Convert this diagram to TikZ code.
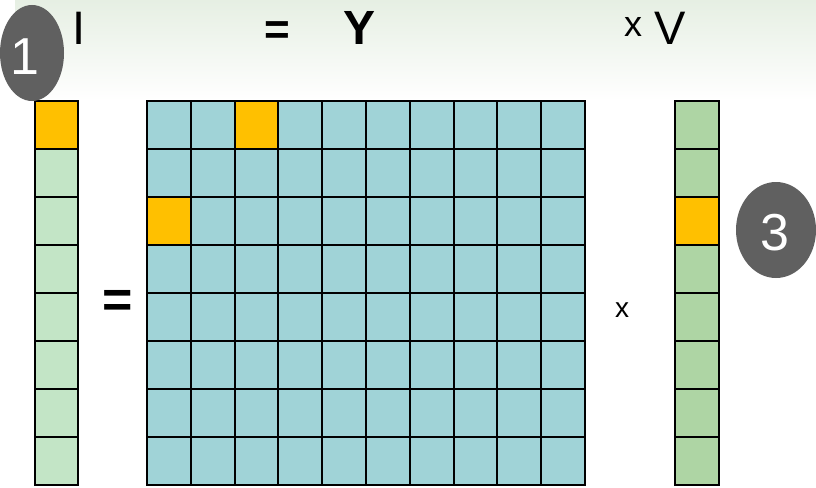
\documentclass[tikz,border=0pt]{standalone}
\usepackage{fontspec}
\setmainfont{Liberation Sans}
\definecolor{orng}{HTML}{FFC000}
\definecolor{lgreen}{HTML}{C3E5C6}
\definecolor{teal}{HTML}{A0D3D7}
\definecolor{rgreen}{HTML}{AED5A4}
\definecolor{topg}{HTML}{E6EFE3}
\definecolor{bub}{HTML}{606060}
\begin{document}
\begin{tikzpicture}[x=1pt,y=-1pt,
  cellbox/.style={draw=black,line width=2pt},
  bigtxt/.style={inner sep=0pt,anchor=base,font=\fontsize{47}{47}\selectfont},
  bubtxt/.style={text=white,inner sep=0pt,font=\fontsize{52}{52}\selectfont}]
\useasboundingbox (0,0) rectangle (816,487);
\fill[white] (0,0) rectangle (816,487);
\shade[top color=topg,bottom color=white] (15,0) rectangle (816,100);
% left column
\foreach \r in {0,...,7}{
  \pgfmathsetmacro{\yy}{101+48*\r}
  \ifnum\r=0 \def\fc{orng}\else\def\fc{lgreen}\fi
  \path[cellbox,fill=\fc] (35,\yy) rectangle (78,\yy+48);
}
% matrix
\foreach \r in {0,...,7}{
  \foreach \c in {0,...,9}{
    \pgfmathsetmacro{\yy}{101+48*\r}
    \pgfmathsetmacro{\xx}{147+43.8*\c}
    \path[cellbox,fill=teal] (\xx,\yy) rectangle (\xx+43.8,\yy+48);
  }
}
\path[cellbox,fill=orng] (147+2*43.8,101) rectangle (147+3*43.8,149);
\path[cellbox,fill=orng] (147,197) rectangle (147+43.8,245);
% right column
\foreach \r in {0,...,7}{
  \pgfmathsetmacro{\yy}{101+48*\r}
  \ifnum\r=2 \def\fc{orng}\else\def\fc{rgreen}\fi
  \path[cellbox,fill=\fc] (675,\yy) rectangle (719,\yy+48);
}
% header texts
\node[bigtxt] (tI) at (79,45) {I};
\node[bigtxt,font=\fontsize{44}{44}\selectfont\bfseries] (teq) at (277,45) {=};
\node[bigtxt,font=\fontsize{48}{48}\selectfont\bfseries] (tY) at (360,45) {Y};
\node[bigtxt,font=\fontsize{36}{36}\selectfont] (tx) at (633,37) {x};
\node[bigtxt] (tV) at (670,45) {V};
% middle texts
\node[inner sep=0pt,font=\fontsize{52}{52}\selectfont\bfseries] (meq) at (117.5,303.5) {=};
\node[inner sep=0pt,font=\fontsize{28}{28}\selectfont] (mx) at (622,310) {x};
% bubbles
\fill[bub] (32,53) ellipse [x radius=32,y radius=48];
\node[bubtxt] (b1) at (25,57) {1};
\fill[bub] (776,230) ellipse [x radius=40,y radius=48];
\node[bubtxt] (b3) at (775,233) {3};
\end{tikzpicture}
\end{document}
